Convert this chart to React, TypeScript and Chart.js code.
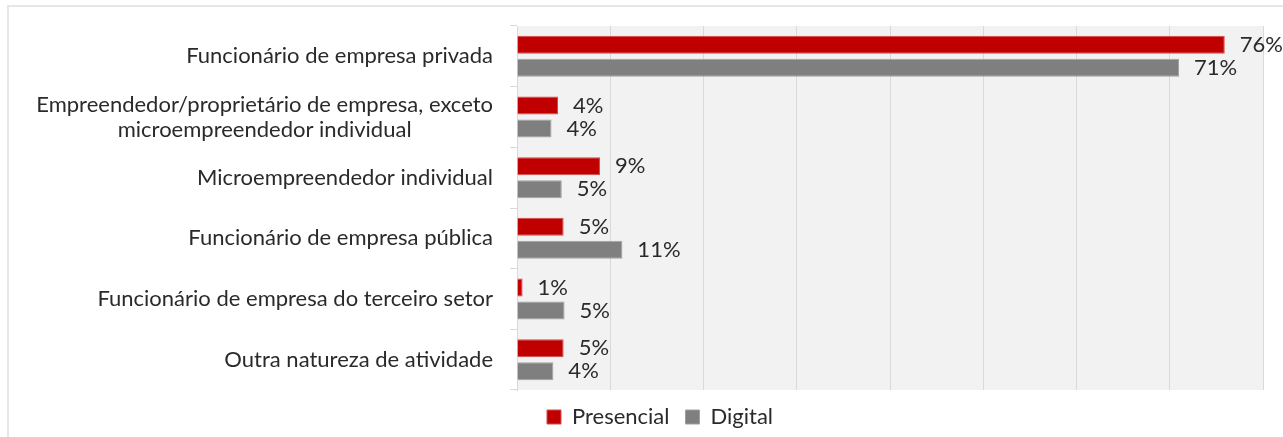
import React, { useEffect, useRef } from "react";
import { Chart, registerables } from "chart.js";

Chart.register(...registerables);

const categories: string[][] = [
  ["Funcionário de empresa privada"],
  ["Empreendedor/proprietário de empresa, exceto", "microempreendedor individual"],
  ["Microempreendedor individual"],
  ["Funcionário de empresa pública"],
  ["Funcionário de empresa do terceiro setor"],
  ["Outra natureza de atividade"],
];
const presencial = [75.9, 4.4, 8.9, 5.0, 0.6, 5.0];
const digital = [71.0, 3.7, 4.8, 11.3, 5.1, 3.9];
const seriesNames = ["Presencial", "Digital"];

const FONT = "Lato, 'Open Sans', sans-serif";
const TEXT = "#2a2a2a";
const FS = 22;
const FW = "400";

const plotBg = {
  id: "plotBg",
  beforeDraw(chart: any) {
    const { ctx, chartArea } = chart;
    ctx.save();
    ctx.fillStyle = "#f2f2f2";
    ctx.fillRect(chartArea.left, chartArea.top, chartArea.right - chartArea.left, chartArea.bottom - chartArea.top);
    ctx.restore();
  },
};

const catLabels = {
  id: "catLabels",
  afterDraw(chart: any) {
    const { ctx } = chart;
    const y = chart.scales.y;
    ctx.save();
    ctx.font = `${FW} ${FS}px ${FONT}`;
    ctx.fillStyle = TEXT;
    ctx.textBaseline = "middle";
    ctx.textAlign = "center";
    const right = y.right - 24;
    const lh = 25;
    categories.forEach((lines, i) => {
      const cy = y.getPixelForTick(i);
      const maxW = Math.max(...lines.map((l) => ctx.measureText(l).width));
      const cx = right - maxW / 2;
      lines.forEach((l, j) => {
        const ly = cy + (j - (lines.length - 1) / 2) * lh;
        ctx.fillText(l, cx, ly);
      });
    });
    ctx.restore();
  },
};

const dataLabels = {
  id: "dataLabels",
  afterDatasetsDraw(chart: any) {
    const { ctx } = chart;
    ctx.save();
    ctx.font = `${FW} ${FS}px ${FONT}`;
    ctx.fillStyle = TEXT;
    ctx.textBaseline = "middle";
    ctx.textAlign = "left";
    chart.data.datasets.forEach((ds: any, di: number) => {
      const meta = chart.getDatasetMeta(di);
      meta.data.forEach((bar: any, i: number) => {
        ctx.fillText(Math.round(ds.data[i]) + "%", bar.x + 15, bar.y);
      });
    });
    ctx.restore();
  },
};

export default function App() {
  const ref = useRef<HTMLCanvasElement>(null);
  useEffect(() => {
    document.body.style.margin = "0";
    const chart = new Chart(ref.current!, {
      type: "bar",
      data: {
        labels: categories.map((c) => c.join(" ")),
        datasets: [
          {
            label: seriesNames[0],
            data: presencial,
            backgroundColor: "#c00000",
            borderColor: "#d84a4a",
            borderWidth: 1,
            categoryPercentage: 0.76,
            barPercentage: 0.78,
          },
          {
            label: seriesNames[1],
            data: digital,
            backgroundColor: "#7f7f7f",
            borderColor: "#a0a0a0",
            borderWidth: 1,
            categoryPercentage: 0.76,
            barPercentage: 0.78,
          },
        ],
      },
      options: {
        indexAxis: "y",
        responsive: false,
        animation: false,
        layout: { padding: { left: 57, right: 20, top: 26, bottom: 0 } },
        scales: {
          x: {
            min: 0,
            max: 80,
            ticks: { display: false, stepSize: 10 },
            grid: { color: "#d9d9d9", drawTicks: false },
            border: { display: false },
          },
          y: {
            ticks: { display: false },
            grid: { drawOnChartArea: false, drawTicks: true, tickLength: 7, color: "#d9d9d9", offset: true },
            border: { display: true, color: "#d9d9d9" },
            afterFit: (scale: any) => {
              scale.width = 460;
            },
          },
        },
        plugins: {
          legend: {
            position: "bottom",
            labels: {
              boxWidth: 14,
              boxHeight: 14,
              padding: 16,
              color: TEXT,
              font: { family: FONT, size: FS, weight: FW },
            },
          },
          tooltip: { enabled: false },
        },
      },
      plugins: [plotBg, catLabels, dataLabels],
    });
    return () => chart.destroy();
  }, []);
  return (
    <div style={{ position: "relative", width: 1283, height: 437, overflow: "hidden", background: "#fff" }}>
      <div
        style={{
          position: "absolute",
          left: 7,
          top: 5,
          width: 1400,
          height: 500,
          borderLeft: "2px solid #e6e6e6",
          borderTop: "2px solid #e6e6e6",
        }}
      />
      <canvas ref={ref} width={1283} height={438} style={{ position: "absolute", left: 0, top: 0 }} />
    </div>
  );
}
